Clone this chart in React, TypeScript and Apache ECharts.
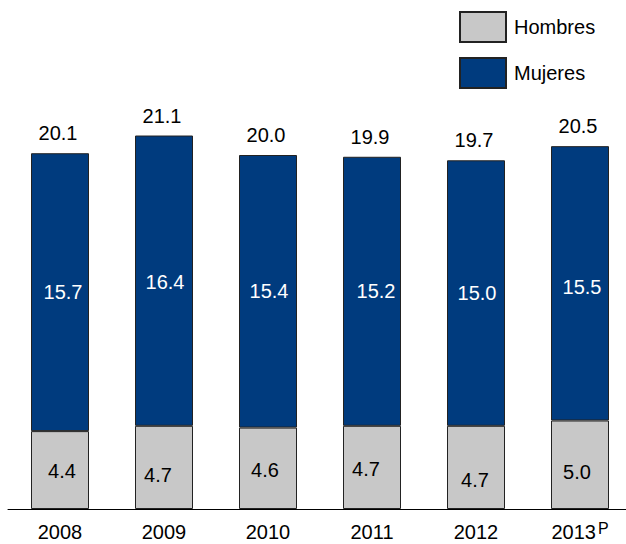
import React, { useEffect, useRef } from "react";
import * as echarts from "echarts";

const years = ["2008", "2009", "2010", "2011", "2012", "2013"];
const hombres = [4.4, 4.7, 4.6, 4.7, 4.7, 5.0];
const mujeres = [15.7, 16.4, 15.4, 15.2, 15.0, 15.5];
const totals = [20.1, 21.1, 20.0, 19.9, 19.7, 20.5];

// small label nudges seen in the reference (presentation only)
const hombresNudge = [[2, 1], [-6, 8], [-3, 2], [-6, 2], [-1, 13], [-3, 7]];
const mujeresNudge = [[3, 0], [1, 1], [1, 0], [4, 0], [1, 0], [2, 4]];

const FONT = "Liberation Sans, Arial, sans-serif";

export default function App() {
  const ref = useRef<HTMLDivElement>(null);
  useEffect(() => {
    if (!ref.current) return;
    const chart = echarts.init(ref.current, null, { renderer: "svg" });
    const border = { borderColor: "#222", borderWidth: 1 };
    chart.setOption({
      animation: false,
      textStyle: { fontFamily: FONT },
      legend: {
        data: ["Hombres", "Mujeres"],
        orient: "vertical",
        left: 459,
        top: 11,
        itemWidth: 46,
        itemHeight: 30,
        itemGap: 14,
        padding: 0,
        icon: "rect",
        textStyle: { fontSize: 20, color: "#000", fontFamily: FONT, padding: [0, 0, 0, 3] },
      },
      grid: { left: 8, right: 0, top: 66.5, bottom: 35, containLabel: false, outerBoundsMode: "none" },
      xAxis: {
        type: "category",
        data: years,
        axisTick: { show: false },
        axisLine: { lineStyle: { color: "#000", width: 1 } },
        axisLabel: {
          interval: 0,
          margin: 11,
          fontSize: 20,
          lineHeight: 24,
          color: "#000",
          fontFamily: FONT,
          formatter: (v: string, i: number) =>
            i === years.length - 1 ? `{m|${v}}{sup|P}` : `{m|${v}}`,
          rich: {
            m: { fontSize: 20, lineHeight: 24, color: "#000", fontFamily: FONT },
            sup: {
              fontSize: 16,
              lineHeight: 12,
              verticalAlign: "top",
              color: "#000",
              fontFamily: FONT,
              padding: [0, 0, 12, 2],
            },
          },
        },
      },
      yAxis: { type: "value", min: 0, max: 25, show: false },
      series: [
        {
          name: "Hombres",
          type: "bar",
          stack: "t",
          barWidth: 58,
          itemStyle: { color: "#C8C8C8", ...border },
          label: {
            show: true,
            position: "inside",
            color: "#000",
            fontSize: 20,
            fontFamily: FONT,
            formatter: (p: any) => Number(p.value).toFixed(1),
          },
          data: hombres.map((v, i) => ({ value: v, label: { offset: hombresNudge[i] } })),
        },
        {
          name: "Mujeres",
          type: "bar",
          stack: "t",
          barWidth: 58,
          itemStyle: { color: "#003B7E", ...border },
          label: {
            show: true,
            position: "inside",
            color: "#fff",
            fontSize: 20,
            fontFamily: FONT,
            formatter: (p: any) => Number(p.value).toFixed(1),
          },
          data: mujeres.map((v, i) => ({ value: v, label: { offset: mujeresNudge[i] } })),
        },
        {
          name: "Total",
          type: "bar",
          stack: "t",
          barWidth: 58,
          itemStyle: { color: "transparent", borderWidth: 0 },
          label: {
            show: true,
            position: "top",
            distance: 10,
            offset: [-2, 0],
            color: "#000",
            fontSize: 20,
            fontFamily: FONT,
            formatter: (p: any) => totals[p.dataIndex].toFixed(1),
          },
          data: totals.map(() => 0),
        },
      ],
    });
    return () => chart.dispose();
  }, []);
  return (
    <div style={{ position: "absolute", left: 0, top: 0, width: 626, height: 544, overflow: "hidden", background: "#fff" }}>
      <div ref={ref} style={{ width: 632, height: 544 }} />
    </div>
  );
}
